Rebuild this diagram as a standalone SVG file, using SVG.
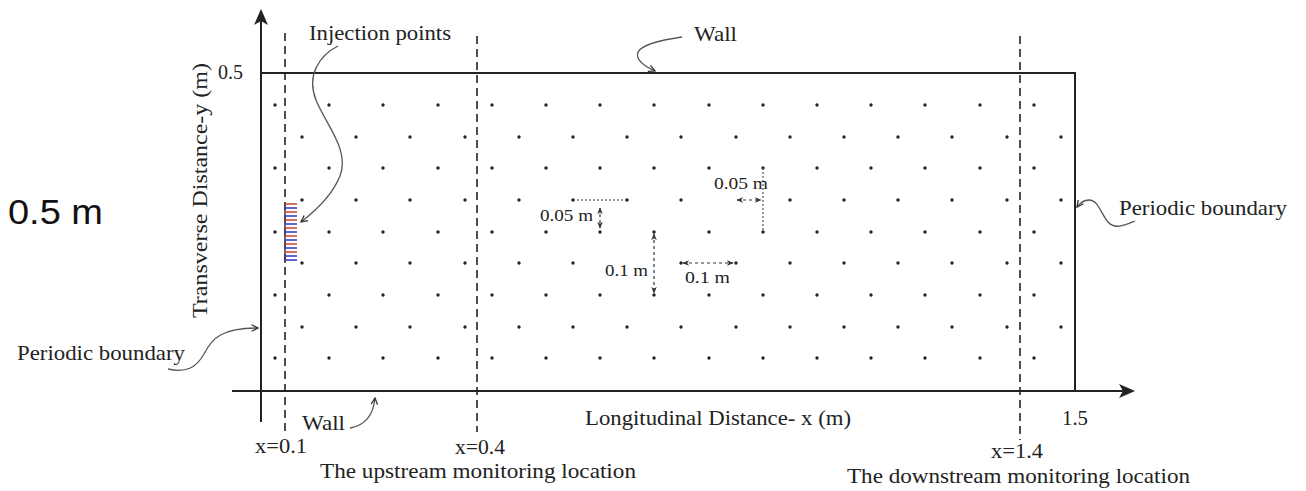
<svg xmlns="http://www.w3.org/2000/svg" width="1306" height="491" viewBox="0 0 1306 491">
  <style>
    .t { font-family: "Liberation Serif", "Times New Roman", serif; font-size: 22px; fill: #222; }
    .s { font-family: "Liberation Serif", "Times New Roman", serif; font-size: 17px; fill: #222; }
    .axis { stroke: #222; stroke-width: 2; fill: none; }
    .dash { stroke: #222; stroke-width: 1.6; stroke-dasharray: 8 5; fill: none; }
    .lead { stroke: #555; stroke-width: 1.3; fill: none; marker-end: url(#lead); }
    .dim { stroke: #333; stroke-width: 1.2; stroke-dasharray: 3 3; fill: none; marker-start: url(#dh); marker-end: url(#dh); }
    .dots circle { fill: #222; }
    .tick-r { stroke: #d04a40; stroke-width: 1.6; }
    .tick-b { stroke: #3c3cc8; stroke-width: 1.6; }
  </style>
  <defs>
    <marker id="lead" viewBox="0 0 10 10" refX="9" refY="5" markerWidth="8" markerHeight="8" markerUnits="userSpaceOnUse" orient="auto">
      <path d="M1,1 L9,5 L1,9" fill="none" stroke="#333" stroke-width="1.6"/>
    </marker>
    <marker id="dh" viewBox="0 0 10 10" refX="9" refY="5" markerWidth="7" markerHeight="7" markerUnits="userSpaceOnUse" orient="auto-start-reverse">
      <path d="M0,1 L10,5 L0,9 L3,5 Z" fill="#333"/>
    </marker>
  </defs>

  <rect width="1306" height="491" fill="#ffffff"/>

  <!-- dot grid -->
  <g id="grid-dots" class="dots">
    <g transform="translate(0,105)">
      <circle cx="275" cy="0" r="1.7"/><circle cx="329" cy="0" r="1.7"/><circle cx="383" cy="0" r="1.7"/><circle cx="438" cy="0" r="1.7"/><circle cx="492" cy="0" r="1.7"/><circle cx="546" cy="0" r="1.7"/><circle cx="600" cy="0" r="1.7"/><circle cx="654" cy="0" r="1.7"/><circle cx="709" cy="0" r="1.7"/><circle cx="763" cy="0" r="1.7"/><circle cx="817" cy="0" r="1.7"/><circle cx="871" cy="0" r="1.7"/><circle cx="925" cy="0" r="1.7"/><circle cx="980" cy="0" r="1.7"/><circle cx="1034" cy="0" r="1.7"/>
    </g>
    <g transform="translate(0,137)">
      <circle cx="302" cy="0" r="1.7"/><circle cx="356" cy="0" r="1.7"/><circle cx="410" cy="0" r="1.7"/><circle cx="465" cy="0" r="1.7"/><circle cx="519" cy="0" r="1.7"/><circle cx="573" cy="0" r="1.7"/><circle cx="627" cy="0" r="1.7"/><circle cx="681" cy="0" r="1.7"/><circle cx="736" cy="0" r="1.7"/><circle cx="790" cy="0" r="1.7"/><circle cx="844" cy="0" r="1.7"/><circle cx="898" cy="0" r="1.7"/><circle cx="952" cy="0" r="1.7"/><circle cx="1007" cy="0" r="1.7"/><circle cx="1061" cy="0" r="1.7"/>
    </g>
    <g transform="translate(0,168)">
      <circle cx="275" cy="0" r="1.7"/><circle cx="329" cy="0" r="1.7"/><circle cx="383" cy="0" r="1.7"/><circle cx="438" cy="0" r="1.7"/><circle cx="492" cy="0" r="1.7"/><circle cx="546" cy="0" r="1.7"/><circle cx="600" cy="0" r="1.7"/><circle cx="654" cy="0" r="1.7"/><circle cx="709" cy="0" r="1.7"/><circle cx="763" cy="0" r="1.7"/><circle cx="817" cy="0" r="1.7"/><circle cx="871" cy="0" r="1.7"/><circle cx="925" cy="0" r="1.7"/><circle cx="980" cy="0" r="1.7"/><circle cx="1034" cy="0" r="1.7"/>
    </g>
    <g transform="translate(0,200)">
      <circle cx="302" cy="0" r="1.7"/><circle cx="356" cy="0" r="1.7"/><circle cx="410" cy="0" r="1.7"/><circle cx="465" cy="0" r="1.7"/><circle cx="519" cy="0" r="1.7"/><circle cx="573" cy="0" r="1.7"/><circle cx="627" cy="0" r="1.7"/><circle cx="681" cy="0" r="1.7"/><circle cx="790" cy="0" r="1.7"/><circle cx="844" cy="0" r="1.7"/><circle cx="898" cy="0" r="1.7"/><circle cx="952" cy="0" r="1.7"/><circle cx="1007" cy="0" r="1.7"/><circle cx="1061" cy="0" r="1.7"/>
    </g>
    <g transform="translate(0,232)">
      <circle cx="275" cy="0" r="1.7"/><circle cx="329" cy="0" r="1.7"/><circle cx="383" cy="0" r="1.7"/><circle cx="438" cy="0" r="1.7"/><circle cx="492" cy="0" r="1.7"/><circle cx="546" cy="0" r="1.7"/><circle cx="600" cy="0" r="1.7"/><circle cx="654" cy="0" r="1.7"/><circle cx="709" cy="0" r="1.7"/><circle cx="763" cy="0" r="1.7"/><circle cx="817" cy="0" r="1.7"/><circle cx="871" cy="0" r="1.7"/><circle cx="925" cy="0" r="1.7"/><circle cx="980" cy="0" r="1.7"/><circle cx="1034" cy="0" r="1.7"/>
    </g>
    <g transform="translate(0,263)">
      <circle cx="302" cy="0" r="1.7"/><circle cx="356" cy="0" r="1.7"/><circle cx="410" cy="0" r="1.7"/><circle cx="465" cy="0" r="1.7"/><circle cx="519" cy="0" r="1.7"/><circle cx="573" cy="0" r="1.7"/><circle cx="681" cy="0" r="1.7"/><circle cx="736" cy="0" r="1.7"/><circle cx="790" cy="0" r="1.7"/><circle cx="844" cy="0" r="1.7"/><circle cx="898" cy="0" r="1.7"/><circle cx="952" cy="0" r="1.7"/><circle cx="1007" cy="0" r="1.7"/><circle cx="1061" cy="0" r="1.7"/>
    </g>
    <g transform="translate(0,295)">
      <circle cx="275" cy="0" r="1.7"/><circle cx="329" cy="0" r="1.7"/><circle cx="383" cy="0" r="1.7"/><circle cx="438" cy="0" r="1.7"/><circle cx="492" cy="0" r="1.7"/><circle cx="546" cy="0" r="1.7"/><circle cx="600" cy="0" r="1.7"/><circle cx="654" cy="0" r="1.7"/><circle cx="709" cy="0" r="1.7"/><circle cx="763" cy="0" r="1.7"/><circle cx="817" cy="0" r="1.7"/><circle cx="871" cy="0" r="1.7"/><circle cx="925" cy="0" r="1.7"/><circle cx="980" cy="0" r="1.7"/><circle cx="1034" cy="0" r="1.7"/>
    </g>
    <g transform="translate(0,327)">
      <circle cx="302" cy="0" r="1.7"/><circle cx="356" cy="0" r="1.7"/><circle cx="410" cy="0" r="1.7"/><circle cx="465" cy="0" r="1.7"/><circle cx="519" cy="0" r="1.7"/><circle cx="573" cy="0" r="1.7"/><circle cx="627" cy="0" r="1.7"/><circle cx="681" cy="0" r="1.7"/><circle cx="736" cy="0" r="1.7"/><circle cx="790" cy="0" r="1.7"/><circle cx="844" cy="0" r="1.7"/><circle cx="898" cy="0" r="1.7"/><circle cx="952" cy="0" r="1.7"/><circle cx="1007" cy="0" r="1.7"/><circle cx="1061" cy="0" r="1.7"/>
    </g>
    <g transform="translate(0,358)">
      <circle cx="275" cy="0" r="1.7"/><circle cx="329" cy="0" r="1.7"/><circle cx="383" cy="0" r="1.7"/><circle cx="438" cy="0" r="1.7"/><circle cx="492" cy="0" r="1.7"/><circle cx="546" cy="0" r="1.7"/><circle cx="600" cy="0" r="1.7"/><circle cx="654" cy="0" r="1.7"/><circle cx="709" cy="0" r="1.7"/><circle cx="763" cy="0" r="1.7"/><circle cx="817" cy="0" r="1.7"/><circle cx="871" cy="0" r="1.7"/><circle cx="925" cy="0" r="1.7"/><circle cx="980" cy="0" r="1.7"/><circle cx="1034" cy="0" r="1.7"/>
    </g>
  </g>

  <!-- domain -->
  <g id="domain">
    <path class="axis" d="M261,422 L261,16"/>
    <polygon points="261,9 268,25 261,21 254,25" fill="#222"/>
    <path class="axis" d="M232,391 L1128,391"/>
    <polygon points="1135,391 1119,384 1123,391 1119,398" fill="#222"/>
    <path class="axis" d="M261,73 L1075,73 L1075,391"/>
  </g>

  <!-- monitoring lines -->
  <g id="monitor-lines">
    <path class="dash" d="M285,33 L285,436"/>
    <path class="dash" d="M477,36 L477,432"/>
    <path class="dash" d="M1020,36 L1020,440"/>
  </g>

  <!-- injection points -->
  <g id="injection">
    <path d="M285,203 L285,263" stroke="#444" stroke-width="1.6"/>
    <line class="tick-r" x1="285" y1="204" x2="297" y2="204"/>
    <line class="tick-b" x1="285" y1="208" x2="297" y2="208"/>
    <line class="tick-r" x1="285" y1="212" x2="297" y2="212"/>
    <line class="tick-b" x1="285" y1="216" x2="297" y2="216"/>
    <line class="tick-r" x1="285" y1="220" x2="297" y2="220"/>
    <line class="tick-b" x1="285" y1="224" x2="297" y2="224"/>
    <line class="tick-r" x1="285" y1="228" x2="297" y2="228"/>
    <line class="tick-b" x1="285" y1="232" x2="297" y2="232"/>
    <line class="tick-r" x1="285" y1="236" x2="297" y2="236"/>
    <line class="tick-b" x1="285" y1="240" x2="297" y2="240"/>
    <line class="tick-r" x1="285" y1="244" x2="297" y2="244"/>
    <line class="tick-b" x1="285" y1="248" x2="297" y2="248"/>
    <line class="tick-r" x1="285" y1="252" x2="297" y2="252"/>
    <line class="tick-b" x1="285" y1="256" x2="297" y2="256"/>
    <line class="tick-b" x1="285" y1="260" x2="297" y2="260"/>
  </g>

  <!-- leader connectors -->
  <g id="connectors">
    <path class="lead" d="M338,46 C320,55 306,75 316,100 C326,125 350,150 340,176 C332,196 314,212 301,222"/>
    <path class="lead" d="M682,37 C662,40 642,44 638,52 C635,60 644,66 655,71"/>
    <path class="lead" d="M350,428 C362,426 373,418 375,398"/>
    <path class="lead" d="M168,369 C186,373 196,368 204,354 C212,338 222,328 258,328"/>
    <path class="lead" d="M1135,221 C1125,225 1115,230 1108,222 C1100,212 1098,200 1089,200 C1084,200 1080,203 1077,207"/>
  </g>

  <!-- spacing dimensions -->
  <g id="dimensions">
    <path d="M573,200 L627,200" stroke="#333" stroke-width="1.2" stroke-dasharray="2 2"/>
    <path class="dim" d="M600,208 L600,228"/>
    <path d="M763,168 L763,232" stroke="#555" stroke-width="1.2" stroke-dasharray="2 2"/>
    <path class="dim" d="M737,200 L761,200"/>
    <path class="dim" d="M654,234 L654,293"/>
    <path class="dim" d="M683,263 L733,263"/>
    <text class="s" x="540" y="221" textLength="53" lengthAdjust="spacingAndGlyphs">0.05 m</text>
    <text class="s" x="714" y="189" textLength="54" lengthAdjust="spacingAndGlyphs">0.05 m</text>
    <text class="s" x="605" y="276" textLength="43" lengthAdjust="spacingAndGlyphs">0.1 m</text>
    <text class="s" x="685" y="283" textLength="45" lengthAdjust="spacingAndGlyphs">0.1 m</text>
  </g>

  <!-- labels -->
  <g id="labels">
    <text class="t" x="309" y="40" textLength="142" lengthAdjust="spacingAndGlyphs">Injection points</text>
    <text class="t" x="694" y="41" textLength="43" lengthAdjust="spacingAndGlyphs">Wall</text>
    <text class="t" x="218" y="79" textLength="25" lengthAdjust="spacingAndGlyphs">0.5</text>
    <text class="t" transform="translate(207,318) rotate(-90)" x="0" y="0" textLength="255" lengthAdjust="spacingAndGlyphs">Transverse Distance-y (m)</text>
    <text x="8" y="224" font-family="'Liberation Sans', Arial, sans-serif" font-size="35" fill="#111" textLength="95" lengthAdjust="spacingAndGlyphs">0.5 m</text>
    <text class="t" x="17" y="360" textLength="168" lengthAdjust="spacingAndGlyphs">Periodic boundary</text>
    <text class="t" x="1119" y="215" textLength="168" lengthAdjust="spacingAndGlyphs">Periodic boundary</text>
    <text class="t" x="302" y="430" textLength="43" lengthAdjust="spacingAndGlyphs">Wall</text>
    <text class="t" x="585" y="425" textLength="266" lengthAdjust="spacingAndGlyphs">Longitudinal Distance- x (m)</text>
    <text class="t" x="1062" y="425" textLength="26" lengthAdjust="spacingAndGlyphs">1.5</text>
    <text class="t" x="255" y="453" textLength="52" lengthAdjust="spacingAndGlyphs">x=0.1</text>
    <text class="t" x="455" y="454" textLength="50" lengthAdjust="spacingAndGlyphs">x=0.4</text>
    <text class="t" x="991" y="458" textLength="52" lengthAdjust="spacingAndGlyphs">x=1.4</text>
    <text class="t" x="320" y="478" textLength="316" lengthAdjust="spacingAndGlyphs">The upstream monitoring location</text>
    <text class="t" x="847" y="483" textLength="343" lengthAdjust="spacingAndGlyphs">The downstream monitoring location</text>
  </g>
</svg>
